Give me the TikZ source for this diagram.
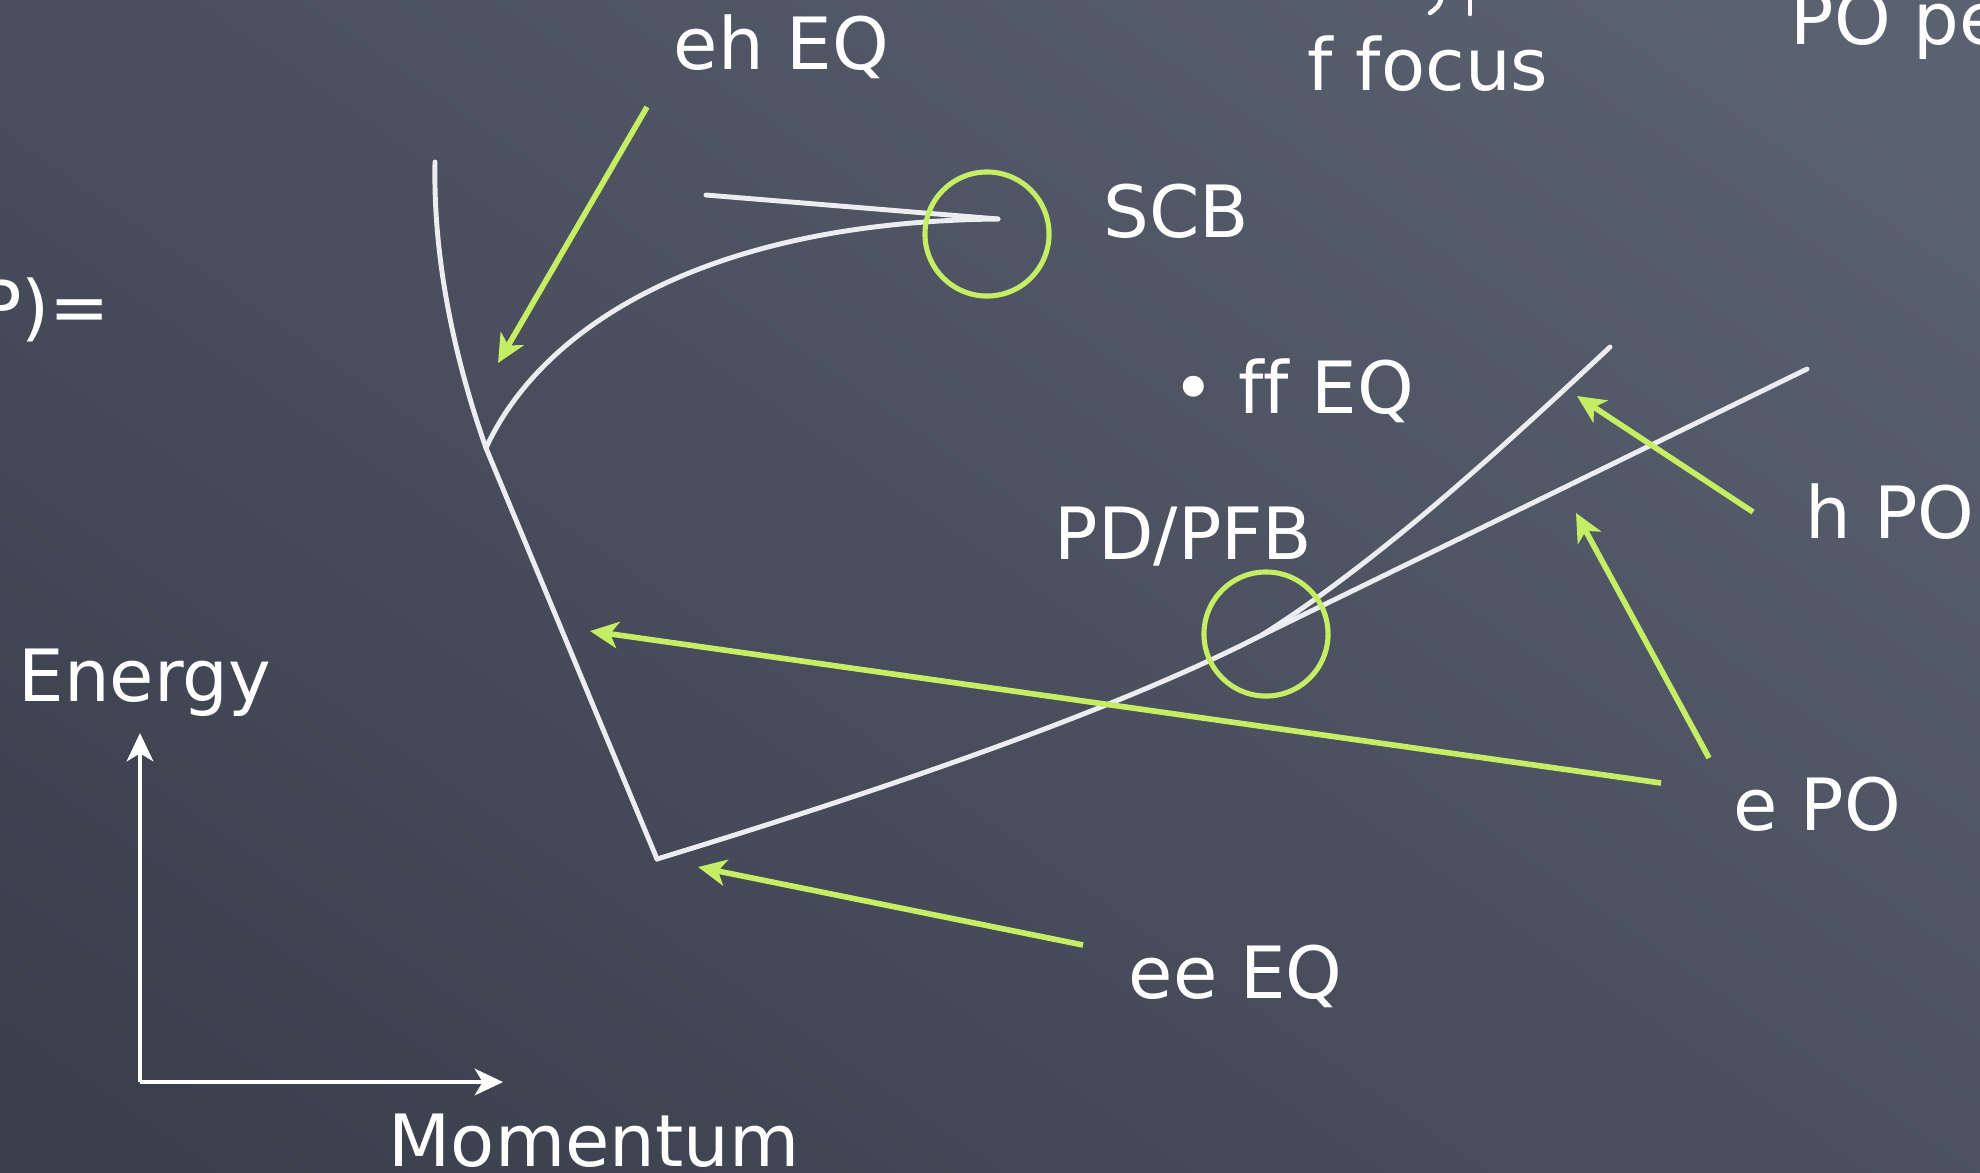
\documentclass[tikz,border=0pt]{standalone}
\usepackage{fontspec}
\setmainfont{DejaVu Sans}[Ligatures=NoCommon]
\usetikzlibrary{arrows.meta}
\definecolor{chalkgreen}{RGB}{198,238,100}
\definecolor{chalkwhite}{RGB}{236,237,240}
\definecolor{boardtop}{RGB}{90,97,112}
\definecolor{boardbot}{RGB}{58,63,76}
\begin{document}
\begin{tikzpicture}[x=0.01cm,y=-0.01cm,
  curve/.style={draw=chalkwhite, line width=1.4pt, line cap=round, line join=round},
  pointer/.style={draw=chalkgreen, line width=1.6pt, -{Stealth[length=8pt,width=7.5pt,inset=2.2pt]}},
  ring/.style={draw=chalkgreen, line width=1.45pt, circle, inner sep=0pt, minimum size=1.24cm},
  lbl/.style={text=white, font=\fontsize{20.5}{25}\selectfont, inner sep=0pt},
  axisline/.style={draw=white, line width=1.3pt, -{Stealth[length=8pt,width=7.5pt,inset=2.2pt]}}]
\useasboundingbox (0,0) rectangle (1980,1172);
\clip (0,0) rectangle (1980,1172);
\shade[top color=boardtop, bottom color=boardbot, shading angle=-35] (-200,-200) rectangle (2180,1372);

% labels
\node[lbl, anchor=base west] (eh) at (673,69) {eh EQ};
\node[lbl, anchor=base west] (ff) at (1307,90) {f focus};
\node[lbl, anchor=base west] (pope) at (1790,44) {PO pe};
\node[lbl, anchor=base east] (peq) at (111,332) {P)=};
\node[lbl, anchor=base west] (scb) at (1103,237) {SCB};
\node[lbl, anchor=base west] (ffeq) at (1172,413) {• ff EQ};
\node[lbl, anchor=base west] (pd) at (1054,559) {PD/PFB};
\node[lbl, anchor=base west] (hpo) at (1805,538) {h PO};
\node[lbl, anchor=base west] (epo) at (1733,830) {e PO};
\node[lbl, anchor=base west] (ee) at (1128,998) {ee EQ};
\node[lbl, anchor=base west] (energy) at (18,701) {Energy};
\node[lbl, anchor=base west] (mom) at (388,1166) {Momentum};

% cut-off glyph remains at the top
\draw[white, line width=1.3pt, line cap=round] (1441,0) .. controls (1438,7) .. (1430,13);
\draw[white, line width=1.3pt, line cap=round] (1470,0) -- (1470,14);

% axes
\coordinate (origin) at (140,1082);
\coordinate (ytip) at (140,733);
\coordinate (xtip) at (503,1082);
\draw[axisline] (origin) -- (ytip);
\draw[axisline] (origin) -- (xtip);

% curve key points
\coordinate (topL) at (435,162);
\coordinate (junc) at (486,448);
\coordinate (vert) at (657,859);
\coordinate (split) at (1262,635);
\coordinate (hend) at (1610,347);
\coordinate (eend) at (1807,369);
\coordinate (cusp) at (998,219);
\coordinate (scbstart) at (706,195);

\draw[curve] (topL) .. controls (433,260) and (455,360) .. (junc) -- (vert);
\draw[curve] (vert) .. controls (850,800) and (1100,718) .. (split);
\draw[curve] (split) .. controls (1380,560) and (1500,450) .. (hend);
\draw[curve] (split) -- (eend);
\draw[curve] (junc) .. controls (540,330) and (700,222) .. (cusp);
\draw[curve] (scbstart) -- (cusp);

% rings
\node[ring] (scbring) at (987,234) {};
\node[ring] (pdring) at (1266,634) {};

% pointers
\coordinate (ehTail) at (647,107);
\coordinate (ehTip) at (498,363);
\coordinate (eeTail) at (1083,945);
\coordinate (eeTip) at (698,867);
\coordinate (epoTailA) at (1661,783);
\coordinate (epoTipA) at (590,631);
\coordinate (epoTailB) at (1709,758);
\coordinate (epoTipB) at (1576,513);
\coordinate (hpoTail) at (1753,512);
\coordinate (hpoTip) at (1577,396);
\draw[pointer] (ehTail) -- (ehTip);
\draw[pointer] (eeTail) -- (eeTip);
\draw[pointer] (epoTailA) -- (epoTipA);
\draw[pointer] (epoTailB) -- (epoTipB);
\draw[pointer] (hpoTail) -- (hpoTip);
\end{tikzpicture}
\end{document}
